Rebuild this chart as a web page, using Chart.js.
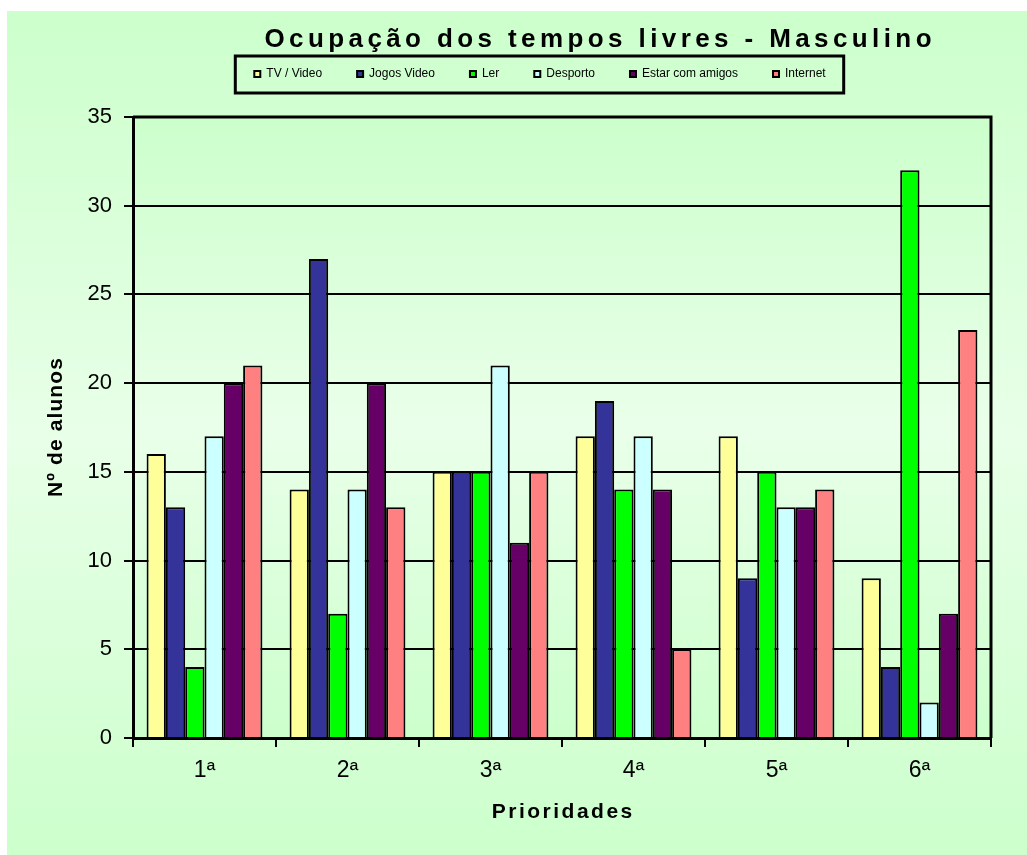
<!DOCTYPE html>
<html lang="pt">
<head>
    <meta charset="UTF-8">
    <title>Ocupação dos tempos livres - Masculino</title>
    <script src="https://cdn.jsdelivr.net/npm/chart.js"></script>
    <style>
        html, body {
            margin: 0;
            padding: 0;
            background: #ffffff;
        }
        .frame {
            position: absolute;
            left: 7px;
            top: 11px;
            width: 1020px;
            height: 844px;
            background: linear-gradient(to bottom, #ccffcc 0%, #e8ffe8 50%, #ccffcc 100%);
        }
        #chart {
            display: block;
        }
    </style>
</head>
<body>
    <div class="frame">
        <canvas id="chart" width="1020" height="844"></canvas>
    </div>

    <script>
        const FONT = 'Arial, "Liberation Sans", sans-serif';

        // Data
        const categories = ['1ª', '2ª', '3ª', '4ª', '5ª', '6ª'];
        const tvVideo     = [16, 14, 15, 17, 17, 9];
        const jogosVideo  = [13, 27, 15, 19, 9, 4];
        const ler         = [4, 7, 15, 14, 15, 32];
        const desporto    = [17, 14, 21, 17, 13, 2];
        const estarAmigos = [20, 20, 11, 14, 13, 7];
        const internet    = [21, 13, 15, 5, 14, 23];

        const seriesNames  = ['TV / Video', 'Jogos Video', 'Ler', 'Desporto', 'Estar com amigos', 'Internet'];
        const seriesValues = [tvVideo, jogosVideo, ler, desporto, estarAmigos, internet];
        const seriesColors = ['#ffff99', '#333399', '#00ff00', '#ccffff', '#660066', '#ff8080'];

        const yMin = 0;
        const yMax = 35;
        const yStep = 5;

        const chartTitle = 'Ocupação dos tempos livres - Masculino';
        const xTitle = 'Prioridades';
        const yTitle = 'Nº de alunos';

        // draws the text with spacing between letters, centred on cx
        function spacedText(ctx, text, cx, y, spacing) {
            ctx.letterSpacing = spacing + 'px';
            const w = ctx.measureText(text).width - spacing;
            ctx.textAlign = 'left';
            ctx.fillText(text, cx - w / 2, y);
            ctx.letterSpacing = '0px';
        }

        // plot background, frame, legend box and titles
        const decorations = {
            id: 'decorations',
            afterLayout(chart) {
                const legend = chart.legend;
                const dx = 533 - (legend.left + legend.right) / 2;
                const dy = -27;
                legend.left += dx;
                legend.right += dx;
                legend.top += dy;
                legend.bottom += dy;
            },
            beforeDraw(chart) {
                const {ctx, chartArea: a} = chart;
                const g = ctx.createLinearGradient(0, a.top, 0, a.bottom);
                g.addColorStop(0, '#ccffcc');
                g.addColorStop(0.5, '#eaffea');
                g.addColorStop(1, '#ccffcc');
                ctx.save();
                ctx.fillStyle = g;
                ctx.fillRect(a.left, a.top, a.right - a.left, a.bottom - a.top);
                ctx.restore();
            },
            afterDraw(chart) {
                const {ctx, chartArea: a} = chart;
                ctx.save();

                // top and right side of the plot frame
                ctx.strokeStyle = '#000';
                ctx.lineWidth = 3;
                ctx.beginPath();
                ctx.moveTo(a.left, a.top);
                ctx.lineTo(a.right, a.top);
                ctx.lineTo(a.right, a.bottom);
                ctx.stroke();

                // box round the legend
                const boxes = chart.legend.legendHitBoxes;
                if (boxes && boxes.length) {
                    const first = boxes[0];
                    const last = boxes[boxes.length - 1];
                    const left = first.left - 19;
                    const right = last.left + last.width + 18;
                    const top = first.top - 12;
                    const bottom = first.top + first.height + 13;
                    ctx.lineWidth = 3;
                    ctx.strokeRect(left, top, right - left, bottom - top);
                }

                ctx.fillStyle = '#000';
                ctx.textBaseline = 'alphabetic';

                ctx.font = 'bold 26px ' + FONT;
                spacedText(ctx, chartTitle, 591, 36, 4.4);

                ctx.font = 'bold 21px ' + FONT;
                spacedText(ctx, xTitle, (a.left + a.right) / 2, 807, 2.5);

                ctx.translate(55, (a.top + a.bottom) / 2);
                ctx.rotate(-Math.PI / 2);
                spacedText(ctx, yTitle, 0, 0, 1.1);

                ctx.restore();
            }
        };

        const datasets = seriesNames.map((name, i) => ({
            label: name,
            data: seriesValues[i],
            backgroundColor: seriesColors[i],
            borderColor: '#000000',
            borderWidth: 2,
            categoryPercentage: 0.81,
            barPercentage: 1.0
        }));

        new Chart(document.getElementById('chart').getContext('2d'), {
            type: 'bar',
            data: {
                labels: categories,
                datasets: datasets
            },
            options: {
                responsive: false,
                animation: false,
                devicePixelRatio: 1,
                layout: {
                    padding: { top: 49, right: 36, bottom: 0, left: 0 }
                },
                plugins: {
                    title: { display: false },
                    tooltip: { enabled: false },
                    legend: {
                        position: 'top',
                        labels: {
                            boxWidth: 6,
                            boxHeight: 6,
                            padding: 35,
                            color: '#000',
                            font: { size: 12, family: FONT }
                        }
                    }
                },
                scales: {
                    x: {
                        offset: true,
                        grid: {
                            offset: true,
                            drawOnChartArea: false,
                            color: '#000',
                            lineWidth: 2,
                            tickLength: 9,
                            tickColor: '#000',
                            tickWidth: 2
                        },
                        border: { display: true, color: '#000', width: 3 },
                        ticks: {
                            color: '#000',
                            font: { size: 23, family: FONT },
                            padding: 10,
                            maxRotation: 0
                        },
                        afterFit(scale) { scale.height = 117; }
                    },
                    y: {
                        min: yMin,
                        max: yMax,
                        ticks: {
                            stepSize: yStep,
                            color: '#000',
                            font: { size: 22, family: FONT },
                            padding: 12
                        },
                        grid: {
                            color: '#000',
                            lineWidth: 2,
                            tickLength: 9,
                            tickColor: '#000',
                            tickWidth: 2
                        },
                        border: { display: true, color: '#000', width: 3 },
                        afterFit(scale) { scale.width = 126; }
                    }
                }
            },
            plugins: [decorations]
        });
    </script>
</body>
</html>
